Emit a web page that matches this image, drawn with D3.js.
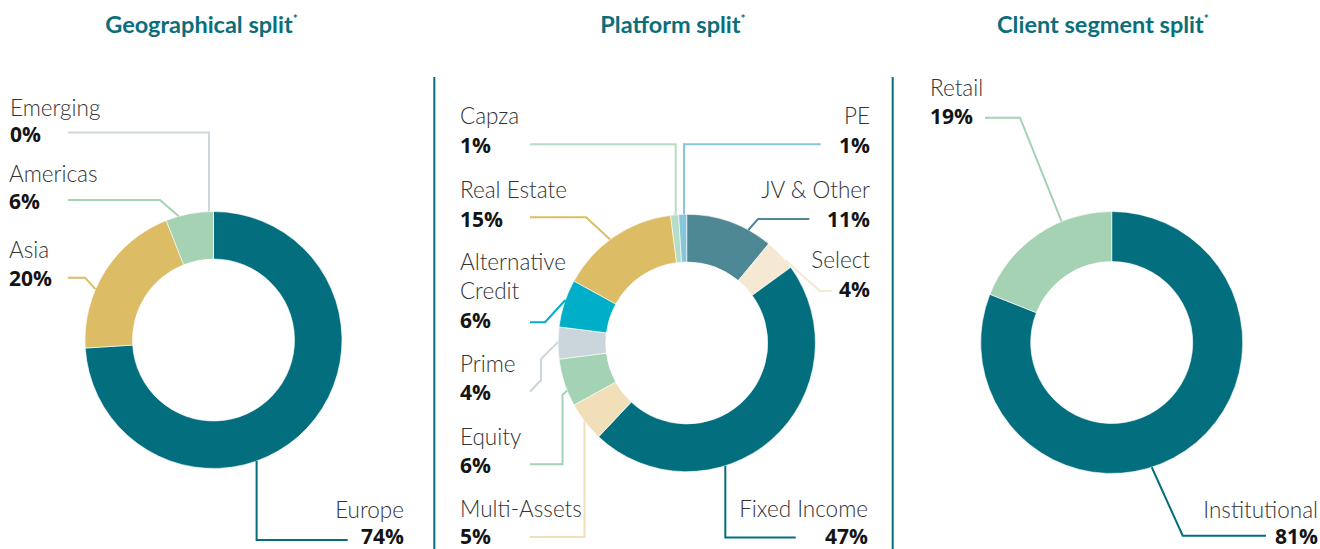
<!DOCTYPE html>
<html>
<head>
<meta charset="utf-8">
<script src="https://cdn.jsdelivr.net/npm/d3@7"></script>
<style>
  html, body { margin: 0; padding: 0; background: #ffffff; }
  svg { display: block; }
  .title { font-family: Lato, "Open Sans", sans-serif; font-weight: 700; font-size: 23.5px; fill: #0b6e7a; }
  .name { font-family: Lato, "Open Sans", sans-serif; font-weight: 300; font-size: 22.5px; fill: #333333; }
  .pct { font-family: "Open Sans", Lato, sans-serif; font-weight: 700; font-size: 21px; fill: #141414; }
</style>
</head>
<body>
<svg id="chart" width="1320" height="549"></svg>
<script>
// ---------------- DATA ----------------
const geoTitle = "Geographical split";
const geoCategories = ["Europe", "Asia", "Americas", "Emerging"];
const geoValues = [74, 20, 6, 0];

const platformTitle = "Platform split";
const platformCategories = ["JV & Other", "Select", "Fixed Income", "Multi-Assets", "Equity", "Prime", "Alternative Credit", "Real Estate", "Capza", "PE"];
const platformValues = [11, 4, 47, 5, 6, 4, 6, 15, 1, 1];

const clientTitle = "Client segment split";
const clientCategories = ["Institutional", "Retail"];
const clientValues = [81, 19];

// ---------------- STYLE / LAYOUT ----------------
const TEAL = "#036f7e";
const geoColors = [TEAL, "#dcbd66", "#a5d2b3", "#cdd7dd"];
const platformColors = ["#4f8895", "#f5e9d3", TEAL, "#f0dfb8", "#a4d2b4", "#cbd6dc", "#00aec7", "#dcbd66", "#b5dcc7", "#86c5da"];
const clientColors = [TEAL, "#a5d2b3"];

// label layout: side, x, name baseline, pct baseline, polyline from text side, anchor angle (deg, clockwise from top)
const geoLayout = {
  cx: 213.5, cy: 340, R: 128.5, r: 81, titleX: 201.5,
  labels: {
    "Emerging": { anchor: "start", x: 10, ny: 115.5, py: 141.5, pts: [[68, 132.5], [209, 132.5]], ang: -2.0, vertical: true },
    "Americas": { anchor: "start", x: 9, ny: 181.5, py: 208.5, pts: [[68, 200], [160, 200]], ang: 344.3 },
    "Asia":     { anchor: "start", x: 9, ny: 257.5, py: 285.5, pts: [[68, 277.7], [85, 277.7]], ang: 293.3 },
    "Europe":   { anchor: "end", x: 404, ny: 518, py: 544, pts: [[347.7, 540], [256.7, 540]], ang: 160.4, vertical: true }
  }
};
const platformLayout = {
  cx: 686.7, cy: 343, R: 128.7, r: 81, titleX: 673,
  labels: {
    "Capza":        { anchor: "start", x: 460, ny: 124, py: 152.7, pts: [[530, 144.3], [675.7, 144.3]], ang: -4.9, vertical: true },
    "PE":           { anchor: "end", x: 870, ny: 124, py: 152.7, pts: [[820.7, 144.3], [684, 144.3]], ang: -1.2, vertical: true },
    "Real Estate":  { anchor: "start", x: 460, ny: 198.3, py: 226.7, pts: [[530, 217.3], [586, 217.3]], ang: 323.5 },
    "JV & Other":   { anchor: "end", x: 870, ny: 198.3, py: 226.7, pts: [[809.3, 219], [758, 219]], ang: 28.6 },
    "Select":       { anchor: "end", x: 870, ny: 268.3, py: 296.7, pts: [[831.7, 291], [820, 291]], ang: 49.8 },
    "Alternative Credit": { anchor: "start", x: 460, ny: 270, py: 328.3, wrap: true, lh: 29.3, pts: [[530, 322.3], [545, 322.3]], ang: 289.5 },
    "Prime":        { anchor: "start", x: 460, ny: 371.7, py: 400, pts: [[530, 391.7], [541, 380], [541, 359]], ang: 270.4 },
    "Equity":       { anchor: "start", x: 460, ny: 445, py: 472.7, pts: [[530, 464.3], [562.5, 464.3], [562.5, 395]], ang: 248.3 },
    "Multi-Assets": { anchor: "start", x: 460, ny: 516.5, py: 543.5, pts: [[530, 537], [584.5, 537]], ang: 232.6, vertical: true },
    "Fixed Income": { anchor: "end", x: 868, ny: 516.5, py: 543.5, pts: [[795.7, 537.5], [725.3, 537.5]], ang: 162.55, vertical: true }
  }
};
const clientLayout = {
  cx: 1111.7, cy: 342.5, R: 131, r: 81, titleX: 1103,
  labels: {
    "Retail":        { anchor: "start", x: 930, ny: 95.5, py: 124, pts: [[985, 117.7], [1020, 117.7]], ang: 337.5 },
    "Institutional": { anchor: "end", x: 1318, ny: 518, py: 544, pts: [[1266, 535.7], [1182.7, 535.7]], ang: 162.2 }
  }
};

// ---------------- DRAW ----------------
const svg = d3.select("#chart");

// dividers
[434.3, 892.7].forEach(x => {
  svg.append("line").attr("x1", x).attr("x2", x).attr("y1", 77).attr("y2", 549)
    .attr("stroke", TEAL).attr("stroke-width", 2);
});

function drawDonut(title, categories, values, colors, layout) {
  const g = svg.append("g");
  // title
  const t = g.append("text").attr("class", "title")
    .attr("x", layout.titleX).attr("y", 33).attr("text-anchor", "middle");
  t.append("tspan").text(title);
  t.append("tspan").text("*").attr("font-size", 12).attr("dy", -10);

  const data = categories.map((c, i) => ({ cat: c, value: values[i], color: colors[i] }));
  const pie = d3.pie().sort(null).value(d => d.value).startAngle(0).endAngle(2 * Math.PI);
  const arc = d3.arc().innerRadius(layout.r).outerRadius(layout.R);
  const arcs = pie(data);

  const donut = g.append("g").attr("transform", `translate(${layout.cx},${layout.cy})`);
  donut.selectAll("path").data(arcs).enter().append("path")
    .attr("d", arc)
    .attr("fill", d => d.data.color)
    .attr("stroke", "#ffffff").attr("stroke-width", 0.6);

  // leader lines + labels
  arcs.forEach(a => {
    const L = layout.labels[a.data.cat];
    if (!L) return;
    const rad = L.ang * Math.PI / 180;
    const ax = layout.cx + layout.R * Math.sin(rad);
    const ay = layout.cy - layout.R * Math.cos(rad);
    const pts = L.pts.map(p => p.slice());
    if (L.vertical) pts[pts.length - 1][0] = ax;
    pts.push([ax, ay]);
    g.append("path")
      .attr("d", d3.line()(pts))
      .attr("fill", "none")
      .attr("stroke", a.data.color)
      .attr("stroke-width", 2);

    const lines = L.wrap ? a.data.cat.split(" ") : [a.data.cat];
    lines.forEach((ln, i) => {
      g.append("text").attr("class", "name")
        .attr("x", L.x).attr("y", L.ny + i * (L.lh || 0))
        .attr("text-anchor", L.anchor).text(ln);
    });
    g.append("text").attr("class", "pct")
      .attr("x", L.x).attr("y", L.py)
      .attr("text-anchor", L.anchor).text(a.data.value + "%");
  });
}

drawDonut(geoTitle, geoCategories, geoValues, geoColors, geoLayout);
drawDonut(platformTitle, platformCategories, platformValues, platformColors, platformLayout);
drawDonut(clientTitle, clientCategories, clientValues, clientColors, clientLayout);
</script>
</body>
</html>
